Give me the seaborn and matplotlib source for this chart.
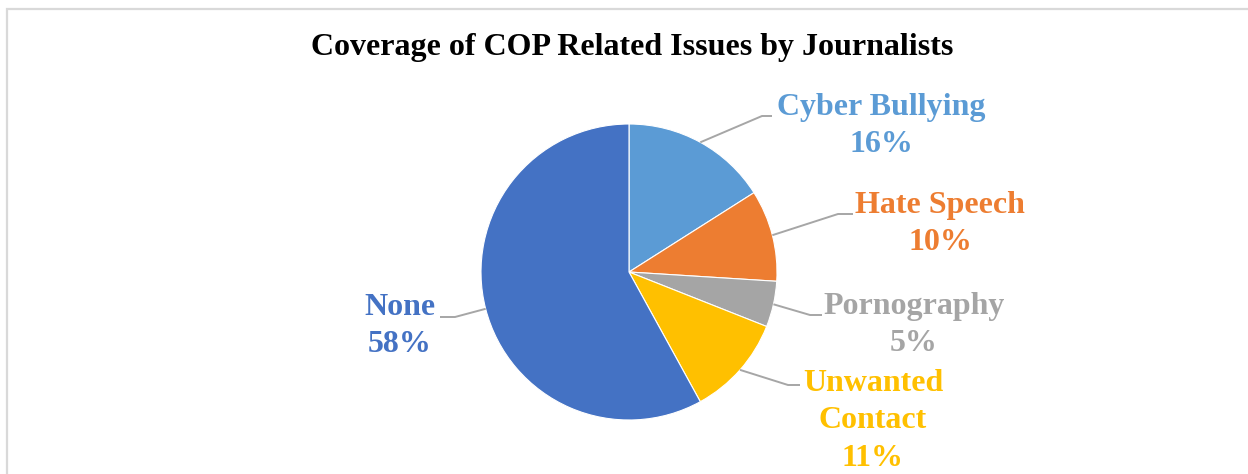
import numpy as np
import matplotlib
matplotlib.use("Agg")
import matplotlib.pyplot as plt
import matplotlib.patches as mpatches
import seaborn as sns

# ---- data ----
categories = ["Cyber Bullying", "Hate Speech", "Pornography", "Unwanted Contact", "None"]
label_text = ["Cyber Bullying", "Hate Speech", "Pornography", "Unwanted\nContact", "None"]
values = [16, 10, 5, 11, 58]
colors = ["#5B9BD5", "#ED7D31", "#A5A5A5", "#FFC000", "#4472C4"]
title = "Coverage of COP Related Issues by Journalists"

sns.set_theme(style="white")
plt.rcParams['font.family'] = ['Liberation Serif', 'DejaVu Serif']

W, H = 1248, 474
fig = plt.figure(figsize=(W / 100, H / 100), dpi=100)
fig.patch.set_facecolor("white")

# border of chart area
fig.add_artist(mpatches.Rectangle((7 / W, -0.1), 1.2, 1 - 9 / H + 0.1,
                                  transform=fig.transFigure, fill=False,
                                  edgecolor="#D9D9D9", linewidth=1.6))

cx, cy, R = 629, 272, 148
ax = fig.add_axes([(cx - R) / W, (H - cy - R) / H, 2 * R / W, 2 * R / H])
ax.axis("off")

wedges, _ = ax.pie(values, colors=colors, startangle=90, counterclock=False,
                   radius=1, wedgeprops=dict(edgecolor="white", linewidth=0.8))
ax.set_xlim(-1, 1)
ax.set_ylim(-1, 1)
ax.set_aspect("equal")

def px(p):
    return ((p[0] - cx) / R, (cy - p[1]) / R)

# label layout (pixel positions): text center, elbow, end of leader
layout = {
    "Cyber Bullying": dict(text=(881, 126), elbow=(762, 116), end=(772, 116)),
    "Hate Speech": dict(text=(940, 224), elbow=(838, 214), end=(853, 214)),
    "Pornography": dict(text=(914, 325), elbow=(810, 315), end=(822, 315)),
    "Unwanted Contact": dict(text=(873, 421), elbow=(788, 385), end=(800, 385)),
    "None": dict(text=(400, 326), elbow=(455, 317), end=(440, 317)),
}

for w, cat, lab, v, c in zip(wedges, categories, label_text, values, colors):
    ang = np.deg2rad((w.theta1 + w.theta2) / 2)
    sx, sy = np.cos(ang), np.sin(ang)
    L = layout[cat]
    ex, ey = px(L["elbow"])
    nx, ny = px(L["end"])
    ax.plot([sx, ex, nx], [sy, ey, ny], color="#A6A6A6", linewidth=1.4,
            clip_on=False, solid_capstyle="butt")
    tx, ty = px(L["text"])
    ax.text(tx, ty, f"{lab}\n{v}%", color=c, fontsize=23, fontweight="bold",
            ha="center", va="center", multialignment="center",
            linespacing=1.38, clip_on=False)

fig.text(632 / W, 1 - 48 / H, title, ha="center", va="center",
         fontsize=23, fontweight="bold", color="black")

fig.savefig("out.png", dpi=100)
